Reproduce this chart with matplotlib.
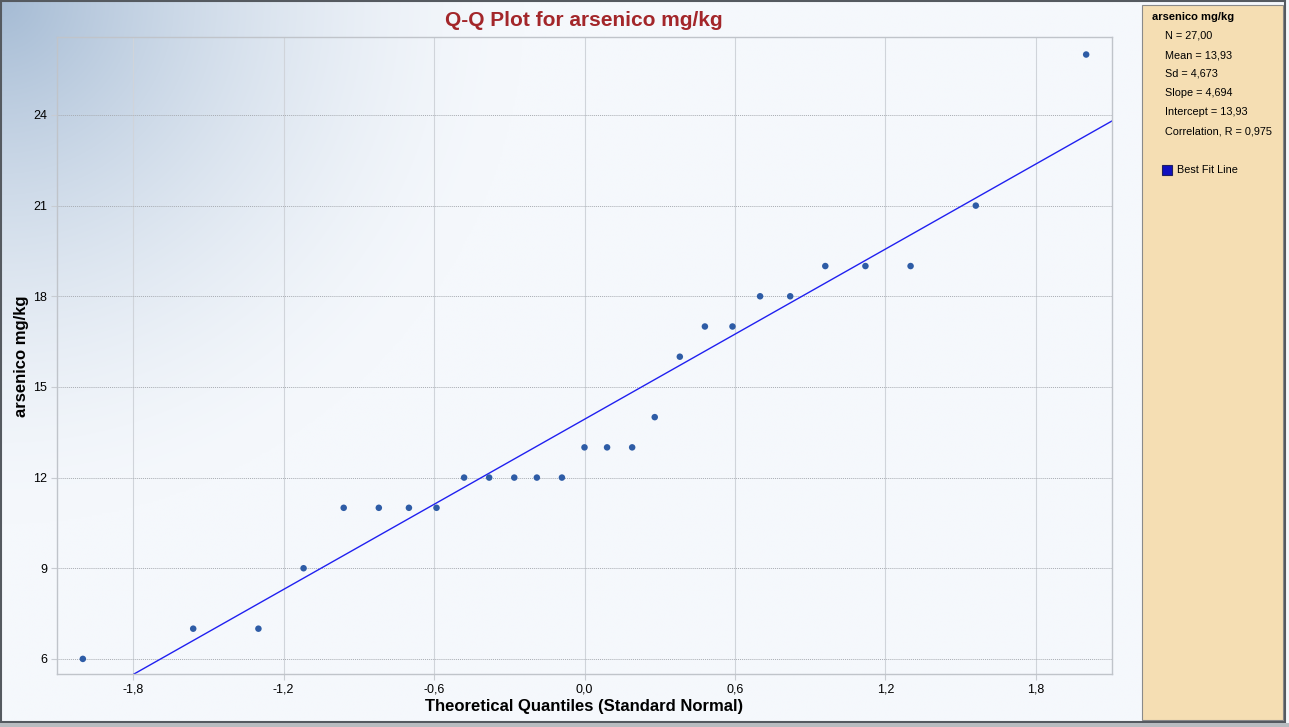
import matplotlib; matplotlib.use("Agg")
import matplotlib.pyplot as plt
import numpy as np
from matplotlib.patches import Rectangle
from matplotlib.ticker import FuncFormatter

plt.rcParams['font.family'] = ['Liberation Sans', 'DejaVu Sans']

quantiles = [-2.00, -1.56, -1.30, -1.12, -0.96, -0.82, -0.70, -0.59, -0.48, -0.38,
             -0.28, -0.19, -0.09, 0.00, 0.09, 0.19, 0.28, 0.38, 0.48, 0.59,
             0.70, 0.82, 0.96, 1.12, 1.30, 1.56, 2.00]
values = [6, 7, 7, 9, 11, 11, 11, 11, 12, 12, 12, 12, 12, 13, 13, 13, 14, 16,
          17, 17, 18, 18, 19, 19, 19, 21, 26]
slope, intercept = 4.694, 13.93
stats = ["N = 27,00", "Mean = 13,93", "Sd = 4,673", "Slope = 4,694",
         "Intercept = 13,93", "Correlation, R = 0,975"]
xticks = [-1.8, -1.2, -0.6, 0.0, 0.6, 1.2, 1.8]
yticks = [6, 9, 12, 15, 18, 21, 24]

W, H = 1289, 727
fig = plt.figure(figsize=(W / 100, H / 100), dpi=100)
fig.patch.set_facecolor("#F5F8FC")

# gradient background behind the chart area
bg = fig.add_axes([0, 0, 1142 / W, 1])
gx, gy = np.meshgrid(np.linspace(0, 1142 / H, 600), np.linspace(0, 1, 400))
d = np.sqrt(gx ** 2 + gy ** 2)
w = np.clip(1 - d / 0.72, 0, 1) ** 1.6
c0 = np.array([245, 248, 252]) / 255
c1 = np.array([165, 187, 212]) / 255
img = c0[None, None, :] * (1 - w[..., None]) + c1[None, None, :] * w[..., None]
bg.imshow(img, aspect="auto", extent=[0, 1, 0, 1], origin="upper")
bg.axis("off")

ax = fig.add_axes([57 / W, 1 - 674 / H, (1112 - 57) / W, (674 - 37) / H])
ax.set_facecolor("none")
ax.set_xlim(-2.103, 2.103)
ax.set_ylim(5.5, 26.58)
ax.set_xticks(xticks)
ax.set_yticks(yticks)
ax.xaxis.set_major_formatter(FuncFormatter(lambda v, p: f"{v:.1f}".replace(".", ",").replace("-0,0", "0,0")))
ax.yaxis.set_major_formatter(FuncFormatter(lambda v, p: f"{v:.0f}"))
ax.tick_params(labelsize=9, length=4, color="#C8CCD2")
ax.tick_params(axis="x", pad=3)
ax.tick_params(axis="y", pad=3)
ax.grid(axis="x", color="#D0D4DA", lw=0.8, ls="-")
ax.grid(axis="y", color="#A8ACB2", lw=0.7, ls=(0, (1, 1)))
for s in ax.spines.values():
    s.set_color("#C0C4CA")
    s.set_linewidth(1)

ax.axline((0, intercept), slope=slope, color="#2020F0", lw=1)
ax.scatter(quantiles, values, s=22, color="#2E5CA6", zorder=3, edgecolors="none")

fig.text(584 / W, 1 - 20 / H, "Q-Q Plot for arsenico mg/kg", ha="center", va="center",
         fontsize=15, fontweight="bold", color="#A3262A")
fig.text(584 / W, 1 - 706 / H, "Theoretical Quantiles (Standard Normal)", ha="center",
         va="center", fontsize=12, fontweight="bold")
fig.text(22 / W, 1 - 356 / H, "arsenico mg/kg", ha="center", va="center", rotation=90,
         fontsize=12, fontweight="bold")

# side panel
fig.patches.append(Rectangle((1142 / W, 1 - 720 / H), (1283 - 1142) / W, (720 - 5) / H,
                             transform=fig.transFigure, facecolor="#F5DEB3",
                             edgecolor="#8A8A8A", lw=0.8))
fig.text(1152 / W, 1 - 17 / H, "arsenico mg/kg", fontsize=8, fontweight="bold", va="center")
for i, s in enumerate(stats):
    fig.text(1165 / W, 1 - (36 + 19 * i) / H, s, fontsize=7.8, va="center")
fig.patches.append(Rectangle((1162 / W, 1 - 175 / H), 10 / W, 10 / H, transform=fig.transFigure,
                             facecolor="#1010C0", edgecolor="#202060", lw=0.8))
fig.text(1177 / W, 1 - 170 / H, "Best Fit Line", fontsize=7.8, va="center")

# outer frame
fig.patches.append(Rectangle((1 / W, 5 / H), 1284 / W, 721 / H, transform=fig.transFigure,
                             facecolor="none", edgecolor="#555A60", lw=1.5))
fig.patches.append(Rectangle((0, 0), 1, 4 / H, transform=fig.transFigure,
                             facecolor="#B8BCC0", edgecolor="none"))

fig.savefig("out.png", dpi=100)
